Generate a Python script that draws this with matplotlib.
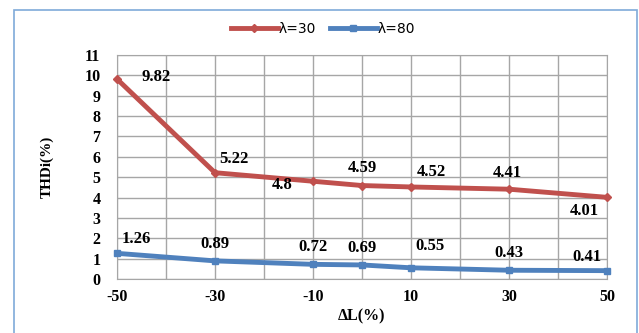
import numpy as np
import matplotlib.pyplot as plt
from matplotlib.patches import Rectangle

plt.rcParams["axes.unicode_minus"] = False

# ΔL sweep and measured current THD for two λ settings
delta_l = [-50, -30, -10, 0, 10, 30, 50]
thd_l30 = [9.82, 5.22, 4.8, 4.59, 4.52, 4.41, 4.01]
thd_l80 = [1.26, 0.89, 0.72, 0.69, 0.55, 0.43, 0.41]
x_ticks = [-50, -30, -10, 10, 30, 50]
y_ticks = list(range(0, 12))

# label offsets in pixels (dx, dy) for each point
off_l30 = [(39, 2), (19, 14), (-31, -4), (0, 18), (20, 15), (-2, 16), (-23, -14)]
off_l80 = [(19, 14), (0, 17), (0, 17), (0, 17), (19, 22), (0, 17), (-20, 14)]

RED = "#C0504D"
BLUE = "#4F81BD"
serif = dict(family="Liberation Serif", weight="bold")

fig = plt.figure(figsize=(6.39, 3.33), dpi=100)
fig.patches.append(Rectangle((14 / 639, -0.05), 623 / 639, 1 - 10 / 333 + 0.05,
                             transform=fig.transFigure, fill=False,
                             edgecolor="#7FAAD9", lw=1.2))

ax = fig.add_axes([117 / 639, 1 - 279 / 333, 490 / 639, 224 / 333])
ax.set_xlim(-50, 50)
ax.set_ylim(0, 11)
ax.set_xticks(x_ticks)
ax.set_xticks(np.arange(-50, 51, 10), minor=True)
ax.set_yticks(y_ticks)
ax.grid(True, which="both", color="#A6A6A6", lw=1.0)
ax.tick_params(which="both", length=0)
ax.tick_params(axis="x", pad=7)
ax.tick_params(axis="y", pad=12)
for s in ax.spines.values():
    s.set_color("#A6A6A6")
for lab in ax.get_xticklabels() + ax.get_yticklabels():
    lab.set_fontfamily("Liberation Serif")
    lab.set_fontweight("bold")
    lab.set_fontsize(11.5)

ax.plot(delta_l, thd_l30, color=RED, lw=3.5, marker="D", ms=4,
        label="λ=30", clip_on=False, zorder=3)
ax.plot(delta_l, thd_l80, color=BLUE, lw=3.5, marker="s", ms=4.5,
        label="λ=80", clip_on=False, zorder=3)

for x, y, (dx, dy) in zip(delta_l, thd_l30, off_l30):
    ax.annotate(f"{y:g}", (x, y), xytext=(dx, dy), textcoords="offset pixels",
                ha="center", va="center", fontsize=12, **serif)
for x, y, (dx, dy) in zip(delta_l, thd_l80, off_l80):
    ax.annotate(f"{y:g}", (x, y), xytext=(dx, dy), textcoords="offset pixels",
                ha="center", va="center", fontsize=12, **serif)

ax.set_xlabel("ΔL(%)", fontsize=11.5, labelpad=3, **serif)
ax.set_ylabel("THDi(%)", fontsize=11, labelpad=22, **serif)

fig.legend(loc="center", bbox_to_anchor=(323 / 639, 1 - 29 / 333), ncol=2,
           frameon=False, handlelength=3.4, handletextpad=0.05,
           columnspacing=1.0, prop={"family": "DejaVu Sans", "size": 10})

fig.savefig("out.png", dpi=100)
